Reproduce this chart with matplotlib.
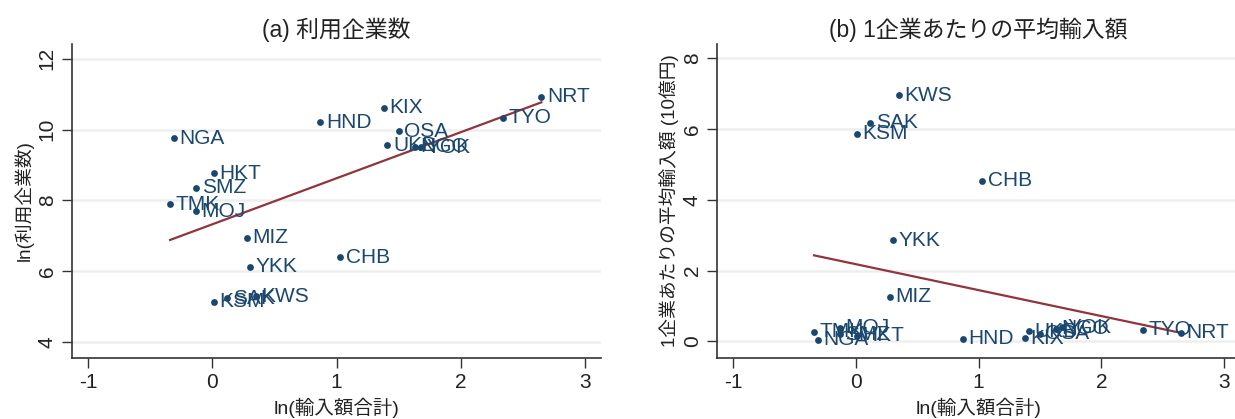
import matplotlib
matplotlib.use("Agg")
import matplotlib.pyplot as plt
import numpy as np

plt.rcParams['font.family'] = ['Liberation Sans', 'Noto Sans CJK JP', 'DejaVu Sans']
plt.rcParams['axes.unicode_minus'] = False

# port / airport codes and their values
codes = ["NRT", "TYO", "KIX", "HND", "OSA", "UKB", "NGO", "YOK", "NGA", "HKT",
         "SMZ", "TMK", "MOJ", "MIZ", "YKK", "CHB", "KSM", "SAK", "KWS"]
ln_imports = [2.65, 2.34, 1.38, 0.87, 1.50, 1.41, 1.63, 1.68, -0.31, 0.01,
              -0.13, -0.34, -0.13, 0.28, 0.30, 1.03, 0.01, 0.12, 0.35]
ln_firms = [10.93, 10.34, 10.62, 10.21, 9.95, 9.56, 9.52, 9.50, 9.76, 8.77,
            8.36, 7.89, 7.70, 6.94, 6.13, 6.40, 5.14, 5.24, 5.30]
avg_import = [0.25, 0.33, 0.09, 0.08, 0.21, 0.28, 0.36, 0.40, 0.04, 0.16,
              0.20, 0.27, 0.39, 1.26, 2.86, 4.54, 5.86, 6.17, 6.95]

xticks = [-1, 0, 1, 2, 3]
yticks_a = [4, 6, 8, 10, 12]
yticks_b = [0, 2, 4, 6, 8]

navy = '#1a476f'
maroon = '#90353b'

fig = plt.figure(figsize=(12.35, 4.19), dpi=100)
ax_a = fig.add_axes([72 / 1235, 61 / 419, 529 / 1235, 314 / 419])
ax_b = fig.add_axes([717 / 1235, 61 / 419, 523 / 1235, 314 / 419])


def panel(ax, x, y, yticks, ylim, title, ylabel):
    x = np.array(x)
    y = np.array(y)
    for t in yticks:
        ax.axhline(t, color='#eeeeee', lw=1.8, zorder=0)
    ax.scatter(x, y, s=24, color=navy, zorder=3, linewidths=0)
    for cx, cy, c in zip(x, y, codes):
        ax.annotate(c, (cx, cy), xytext=(4, 0), textcoords='offset points',
                    ha='left', va='center', fontsize=15, color=navy, zorder=4)
    slope, icpt = np.polyfit(x, y, 1)
    xs = np.array([x.min(), x.max()])
    ax.plot(xs, icpt + slope * xs, color=maroon, lw=1.6, zorder=2)

    ax.set_xlim(-1.13, 3.13)
    ax.set_ylim(*ylim)
    ax.set_xticks(xticks)
    ax.set_yticks(yticks)
    ax.set_yticklabels([str(t) for t in yticks], rotation=90, va='center')
    ax.tick_params(direction='out', length=7, width=1, color='#333333',
                   labelsize=15, labelcolor='#222222', pad=4)
    for s in ['top', 'right']:
        ax.spines[s].set_visible(False)
    for s in ['left', 'bottom']:
        ax.spines[s].set_color('#333333')
        ax.spines[s].set_linewidth(1.2)
    ax.set_title(title, fontsize=16.5, color='#222222', pad=5)
    ax.set_xlabel('ln(輸入額合計)', fontsize=14, color='#222222', labelpad=4)
    ax.set_ylabel(ylabel, fontsize=13.5, color='#222222', labelpad=3)


panel(ax_a, ln_imports, ln_firms, yticks_a, (3.55, 12.42),
      '(a) 利用企業数', 'ln(利用企業数)')
panel(ax_b, ln_imports, avg_import, yticks_b, (-0.47, 8.4),
      '(b) 1企業あたりの平均輸入額', '1企業あたりの平均輸入額 (10億円)')

fig.savefig('out.png', dpi=100)
